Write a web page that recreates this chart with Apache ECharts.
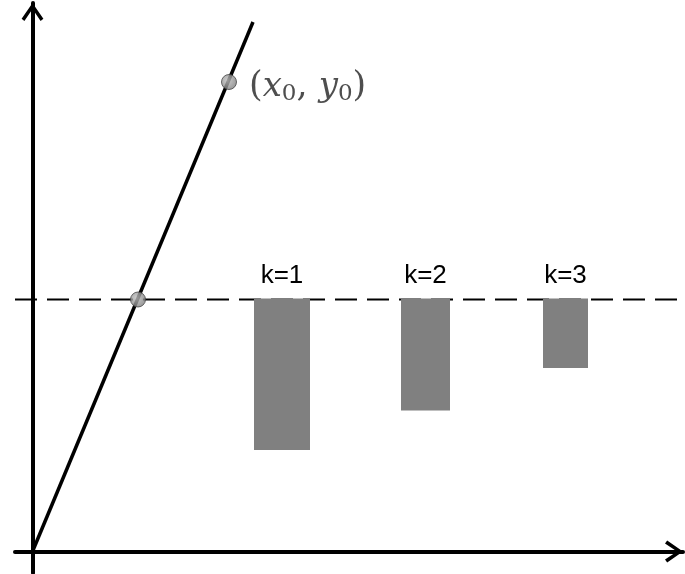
<!DOCTYPE html>
<html>
<head>
<meta charset="utf-8">
<script src="https://cdn.jsdelivr.net/npm/echarts@6/dist/echarts.min.js"></script>
<style>
  html, body { margin: 0; padding: 0; background: #fff; }
  #chart { width: 685px; height: 574px; }
</style>
</head>
<body>
<div id="chart"></div>
<script>
// straight line through the origin
const lineX = [0, 22.05];
const lineY = [0, 52.95];
// marked points on the line
const pointX = [10.55, 19.65];
const pointY = [25.2, 46.95];
// dashed reference level
const levelY = 25.2;
const levelX = [-1.75, 65.05];
// bars hanging from the dashed level
const barLabels = ['k=1', 'k=2', 'k=3'];
const barLeft = [22.15, 36.85, 51.05];
const barRight = [27.75, 41.75, 55.55];
const barBottom = [10.15, 14.1, 18.35];

const chevron = 'path://M11,0 L22,16 L19.2,18.2 L11,6 L2.8,18.2 L0,16 Z';

const mChart = echarts.init(document.getElementById('chart'));

const axisLine = {
    onZero: true,
    symbol: ['none', chevron],
    symbolSize: [22, 18],
    symbolOffset: [0, -9],
    lineStyle: { color: '#000', width: 4 }
};

const options = {
    animation: false,
    grid: { left: 15, right: 2, top: 3, bottom: 1 },
    xAxis: {
        type: 'value',
        min: levelX[0],
        max: levelX[1],
        axisLine: axisLine,
        axisTick: { show: false },
        axisLabel: { show: false },
        splitLine: { show: false }
    },
    yAxis: {
        type: 'value',
        min: -2.15,
        max: 54.85,
        axisLine: axisLine,
        axisTick: { show: false },
        axisLabel: { show: false },
        splitLine: { show: false }
    },
    series: [
        {
            type: 'line',
            data: levelX.map(x => [x, levelY]),
            symbol: 'none',
            lineStyle: { color: '#000', width: 2, type: [22, 10] },
            z: 1
        },
        {
            type: 'custom',
            data: barLabels.map((name, i) => [barLeft[i], barRight[i], levelY, barBottom[i], name]),
            renderItem: function (params, api) {
                const p0 = api.coord([api.value(0), api.value(2)]);
                const p1 = api.coord([api.value(1), api.value(3)]);
                return {
                    type: 'group',
                    children: [
                        {
                            type: 'rect',
                            shape: { x: p0[0], y: p0[1] - 1, width: p1[0] - p0[0], height: p1[1] - p0[1] + 1 },
                            style: { fill: '#808080' }
                        },
                        {
                            type: 'text',
                            x: (p0[0] + p1[0]) / 2,
                            y: p0[1] - 24,
                            style: {
                                text: barLabels[params.dataIndex],
                                fill: '#000',
                                font: '26px "Liberation Sans", sans-serif',
                                align: 'center',
                                verticalAlign: 'middle'
                            }
                        }
                    ]
                };
            },
            z: 3
        },
        {
            type: 'line',
            data: lineX.map((x, i) => [x, lineY[i]]),
            symbol: 'none',
            lineStyle: { color: '#000', width: 3.5 },
            z: 4
        },
        {
            type: 'scatter',
            data: pointX.map((x, i) => [x, pointY[i]]),
            symbolSize: 15,
            itemStyle: {
                color: {
                    type: 'radial', x: 0.4, y: 0.4, r: 0.6,
                    colorStops: [{ offset: 0, color: '#c0c0c0' }, { offset: 1, color: '#808080' }]
                },
                borderColor: '#444',
                borderWidth: 1
            },
            label: {
                show: true,
                position: 'right',
                distance: 12,
                offset: [0, 5],
                formatter: p => p.dataIndex === 1 ? '{n|(}{i|x}{s|0}{n|, }{i|y}{s|0}{n|)}' : '',
                rich: {
                    n: { fontFamily: 'DejaVu Serif', fontSize: 35, color: '#222' },
                    i: { fontFamily: 'DejaVu Serif', fontStyle: 'italic', fontSize: 34, color: '#222' },
                    s: { fontFamily: 'DejaVu Serif', fontSize: 23, color: '#222', padding: [14, 0, 0, 0] }
                }
            },
            z: 5
        }
    ]
};

mChart.setOption(options);
</script>
</body>
</html>
